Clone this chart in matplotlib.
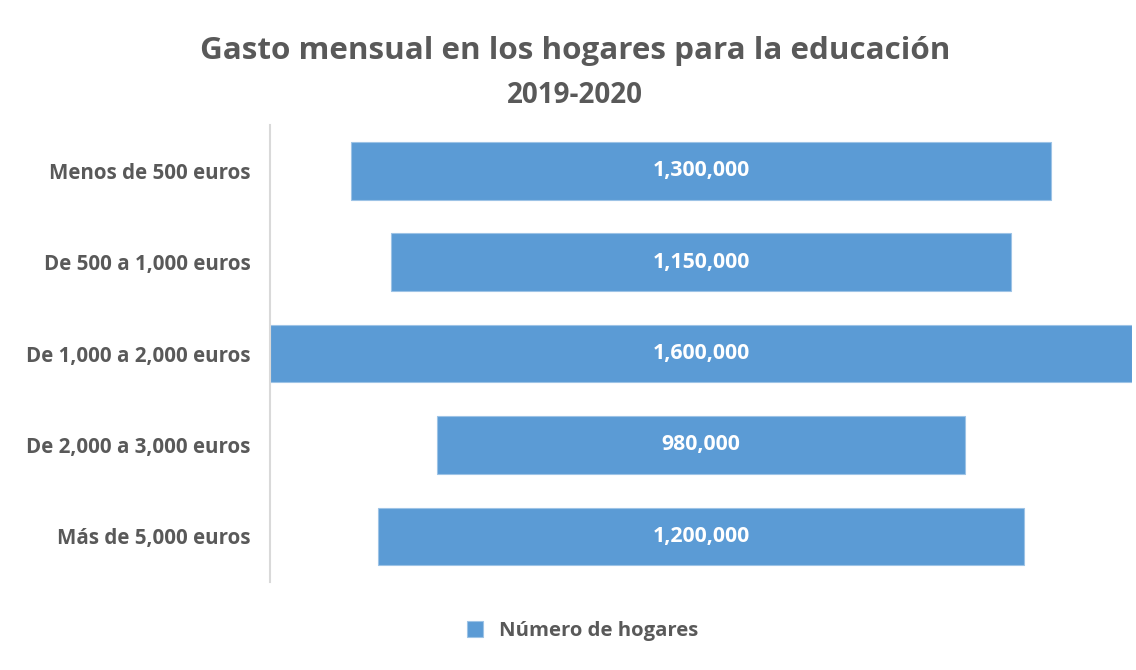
import matplotlib.pyplot as plt
import numpy as np

plt.rcParams['font.family'] = ['Open Sans', 'DejaVu Sans']

categorias = ["Menos de 500 euros", "De 500 a 1,000 euros", "De 1,000 a 2,000 euros",
              "De 2,000 a 3,000 euros", "Más de 5,000 euros"]
hogares = [1300000, 1150000, 1600000, 980000, 1200000]

azul = '#5b9bd5'
gris = '#595959'

fig = plt.figure(figsize=(11.36, 6.7), dpi=100)
ax = fig.add_axes([0.2377, 0.1313, 0.7588, 0.6821])

maximo = max(hogares)
y = np.arange(len(categorias))
izq = [(maximo - v) / 2 for v in hogares]
ax.barh(y, hogares, left=izq, height=0.63, color=azul, edgecolor='#9dc3e6', linewidth=0.8,
        label="Número de hogares")
for i, v in enumerate(hogares):
    ax.text(izq[i] + v / 2, y[i], "{:,}".format(v), ha='center', va='center',
            color='white', fontsize=15.3, fontweight='bold')

ax.set_xlim(0, maximo)
ax.set_ylim(len(categorias) - 0.5, -0.5)
ax.set_yticks(y)
ax.set_yticklabels(categorias, fontsize=14.8, fontweight='bold', color=gris)
ax.set_xticks([])
ax.tick_params(axis='y', length=0, pad=14)
for s in ['top', 'right', 'bottom']:
    ax.spines[s].set_visible(False)
ax.spines['left'].set_color('#d9d9d9')
ax.spines['left'].set_linewidth(1.5)

fig.text(0.5065, 0.924, "Gasto mensual en los hogares para la educación", ha='center', va='center',
         fontsize=22.6, fontweight='bold', color=gris)
fig.text(0.5065, 0.858, "2019-2020", ha='center', va='center',
         fontsize=20, fontweight='bold', color=gris)

fig.legend(loc='center', bbox_to_anchor=(0.513, 0.058), frameon=False,
           prop={'weight': 'bold', 'size': 14.6}, handlelength=0.8, handleheight=0.8,
           labelcolor=gris)

fig.savefig("out.png", dpi=100)
